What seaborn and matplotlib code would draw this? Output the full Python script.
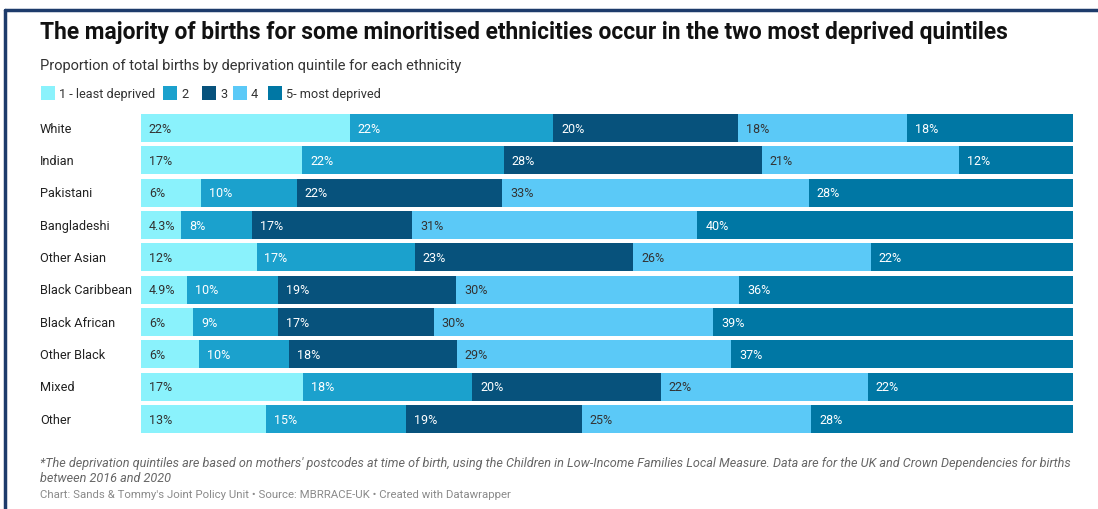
import numpy as np
import pandas as pd
import matplotlib
matplotlib.use("Agg")
import matplotlib.pyplot as plt
import seaborn as sns
from matplotlib.patches import Rectangle
from matplotlib.lines import Line2D

# ---- data ----
ethnicities = ["White", "Indian", "Pakistani", "Bangladeshi", "Other Asian",
               "Black Caribbean", "Black African", "Other Black", "Mixed", "Other"]
quintiles = ["1 - least deprived", "2", "3", "4", "5- most deprived"]
q1 = [22.4, 17.3, 6.4, 4.3, 12.4, 4.9, 5.6, 6.2, 17.4, 13.4]
q2 = [21.8, 21.6, 10.3, 7.6, 17.0, 9.8, 9.1, 9.7, 18.1, 15.0]
q3 = [19.8, 27.7, 22.0, 17.2, 23.4, 19.1, 16.7, 18.0, 20.2, 18.9]
q4 = [18.1, 21.2, 32.8, 30.6, 25.5, 30.4, 30.0, 29.4, 22.2, 24.6]
q5 = [17.8, 12.2, 28.3, 40.3, 21.7, 35.8, 38.6, 36.7, 22.0, 28.1]
colors = ["#8af2fc", "#1ba1cd", "#07527c", "#5bc9f7", "#0077a4"]
text_colors = ["#333333", "white", "white", "#333333", "white"]

title = "The majority of births for some minoritised ethnicities occur in the two most deprived quintiles"
subtitle = "Proportion of total births by deprivation quintile for each ethnicity"
note = ("*The deprivation quintiles are based on mothers' postcodes at time of birth, using the Children in "
        "Low-Income Families Local Measure. Data are for the UK and Crown Dependencies for births\nbetween 2016 and 2020")
credit = "Chart: Sands & Tommy's Joint Policy Unit \u2022 Source: MBRRACE-UK \u2022 Created with Datawrapper"

sns.set_theme(style="white")
plt.rcParams["font.family"] = ["Roboto", "DejaVu Sans"]

vals = np.array([q1, q2, q3, q4, q5])           # shape (5, n)
vals = vals / vals.sum(axis=0) * 100            # normalise each row to 100
cum = np.cumsum(vals, axis=0)

W, H = 1098, 510
fig = plt.figure(figsize=(W / 100, H / 100), dpi=100)
ax = fig.add_axes([141 / W, 1 - 436.2 / H, (1073 - 141) / W, (436.2 - 112.85) / H])

# stacked bars: draw cumulative totals from the last quintile to the first
for i in range(4, -1, -1):
    df = pd.DataFrame({"eth": ethnicities, "val": cum[i]})
    sns.barplot(data=df, y="eth", x="val", order=ethnicities, color=colors[i],
                width=0.87, ax=ax, linewidth=0, saturation=1)

# value labels
for i in range(5):
    raw = [q1, q2, q3, q4, q5][i]
    for j in range(len(ethnicities)):
        left = cum[i, j] - vals[i, j]
        v = raw[j]
        lab = f"{v:.1f}%" if v < 5 else f"{v:.0f}%"
        ax.text(left + 0.85, j, lab, va="center", ha="left", fontsize=9,
                color=text_colors[i])

ax.set_xlim(0, 100)
ax.set_ylim(len(ethnicities) - 0.5, -0.5)
ax.set_xlabel("")
ax.set_ylabel("")
ax.set_xticks([])
ax.set_yticks(range(len(ethnicities)))
ax.set_yticklabels([])
ax.tick_params(left=False, bottom=False)
for s in ax.spines.values():
    s.set_visible(False)

# row labels
for j, e in enumerate(ethnicities):
    ax.text(-101 / 932 * 100, j, e, ha="left", va="center", fontsize=9.2,
            color="#222222", transform=ax.transData, clip_on=False)

# title / subtitle
fig.text(40 / W, 1 - 33 / H, title, fontsize=16.4, fontweight="bold", color="#111111",
         ha="left", va="center")
fig.text(40 / W, 1 - 66 / H, subtitle, fontsize=10.5, color="#333333",
         ha="left", va="center")

# legend (manual)
sq_x = [41, 163, 202, 233, 268]
for i in range(5):
    fig.add_artist(Rectangle((sq_x[i] / W, 1 - 101 / H), 14 / W, 14 / H,
                             transform=fig.transFigure, color=colors[i], lw=0))
    fig.text((sq_x[i] + 18) / W, 1 - 94.5 / H, quintiles[i], fontsize=9.2,
             color="#333333", ha="left", va="center")

# footer
fig.text(40 / W, 1 - 471 / H, note, fontsize=9.05, style="italic", color="#666666",
         ha="left", va="center", linespacing=1.3)
fig.text(40 / W, 1 - 495 / H, credit, fontsize=8.2, color="#8a8a8a",
         ha="left", va="center")

# frame lines (top and left)
fig.add_artist(Line2D([5 / W, 1], [1 - 11 / H, 1 - 11 / H], color="#1d3b6b", lw=2.5,
                      transform=fig.transFigure))
fig.add_artist(Line2D([5 / W, 5 / W], [0, 1 - 11 / H], color="#1d3b6b", lw=2.5,
                      transform=fig.transFigure))

fig.savefig("out.png", dpi=100, facecolor="white")
